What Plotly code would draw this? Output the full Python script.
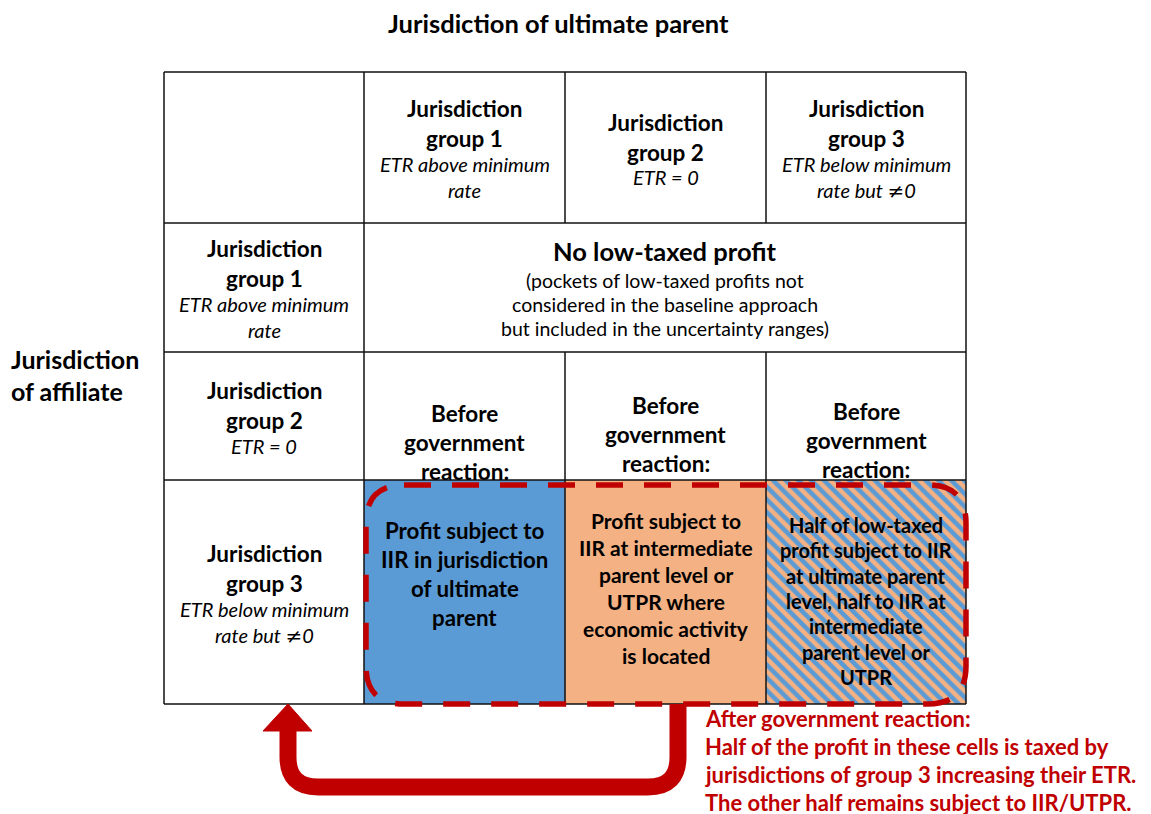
import plotly.graph_objects as go

# ---------------- data (texts) ----------------
title_top = "Jurisdiction of ultimate parent"
title_left = ["Jurisdiction", "of affiliate"]

NE = "<span style='font-family:DejaVu Sans;font-style:normal'>≠</span>"
col_heads = [
    (["Jurisdiction", "group 1"], ["ETR above minimum", "rate"]),
    (["Jurisdiction", "group 2"], ["ETR = 0"]),
    (["Jurisdiction", "group 3"], ["ETR below minimum", "rate but " + NE + "0"]),
]
row_heads = col_heads

no_low_title = "No low-taxed profit"
no_low_sub = ["(pockets of low-taxed profits not",
              "considered in the baseline approach",
              "but included in the uncertainty ranges)"]

before = ["Before", "government", "reaction:"]
cell_texts = [
    ["Profit subject to", "IIR in jurisdiction", "of ultimate", "parent"],
    ["Profit subject to", "IIR at intermediate", "parent level or", "UTPR where",
     "economic activity", "is located"],
    ["Half of low-taxed", "profit subject to IIR", "at ultimate parent",
     "level, half to IIR at", "intermediate", "parent level or", "UTPR"],
]
after_texts = ["After government reaction:",
               "Half of the profit in these cells is taxed by",
               "jurisdictions of group 3 increasing their ETR.",
               "The other half remains subject to IIR/UTPR."]

# ---------------- layout geometry ----------------
W, H = 1151, 814
OFF = 8  # page body margin
xe = [164, 364, 565, 766, 966]
ye = [72, 223, 352, 480, 704]
BLUE = "#5B9BD5"
ORANGE = "#F4B183"
RED = "#C00000"
FONT = "Lato"

fig = go.Figure()

# hatched cell as a bar with pattern
fig.add_trace(go.Bar(
    x=[(xe[3] + xe[4]) / 2], y=[ye[4] - ye[3]], base=[ye[3]],
    width=[xe[4] - xe[3]],
    marker=dict(color=ORANGE, line=dict(width=0),
                pattern=dict(shape="\\", fgcolor=BLUE, bgcolor=ORANGE,
                             size=9, solidity=0.5, fgopacity=1)),
    hoverinfo="skip", showlegend=False))

shapes = []
shapes.append(dict(type="rect", x0=xe[1], x1=xe[2], y0=ye[3], y1=ye[4],
                   fillcolor=BLUE, line=dict(width=0), layer="below"))
shapes.append(dict(type="rect", x0=xe[2], x1=xe[3], y0=ye[3], y1=ye[4],
                   fillcolor=ORANGE, line=dict(width=0), layer="below"))

lc = dict(color="#111111", width=1.5)
def seg(x0, y0, x1, y1):
    shapes.append(dict(type="line", x0=x0, y0=y0, x1=x1, y1=y1, line=lc, layer="above"))

seg(xe[0], ye[0], xe[0], ye[4])
seg(xe[4], ye[0], xe[4], ye[4])
for y in ye:
    seg(xe[0], y, xe[4], y)
seg(xe[1], ye[0], xe[1], ye[4])
for x in xe[2:4]:
    seg(x, ye[0], x, ye[1])
    seg(x, ye[2], x, ye[4])

# dashed rounded box
bx0, bx1, by0, by1, r = 366, 966, 485, 704, 38
path = (f"M {bx0+r} {by0} L {bx1-r} {by0} Q {bx1} {by0} {bx1} {by0+r} "
        f"L {bx1} {by1-r} Q {bx1} {by1} {bx1-r} {by1} L {bx0+r} {by1} "
        f"Q {bx0} {by1} {bx0} {by1-r} L {bx0} {by0+r} Q {bx0} {by0} {bx0+r} {by0} Z")
shapes.append(dict(type="path", path=path,
                   line=dict(color=RED, width=5.5, dash="27px,21px"), layer="above"))

# arrow
ar = 30
apath = (f"M 678 704 L 678 {787-ar} Q 678 787 {678-ar} 787 "
         f"L {288+ar} 787 Q 288 787 288 {787-ar} L 288 728")
shapes.append(dict(type="path", path=apath, line=dict(color=RED, width=17), layer="above"))
shapes.append(dict(type="path", path="M 263 731 L 312 731 L 288 704 Z",
                   fillcolor=RED, line=dict(color=RED, width=1), layer="above"))

annotations = []
def txt(x, y, s, size, bold=True, italic=False, color="black", anchor="center"):
    t = s
    if italic:
        t = f"<i>{t}</i>"
    if bold:
        t = f"<b>{t}</b>"
    annotations.append(dict(x=x, y=y, xref="x", yref="y", text=t, showarrow=False,
                            xanchor=anchor, yanchor="middle",
                            font=dict(family=FONT, size=size, color=color)))

def block(x, y0, lines, size, step, **kw):
    for i, s in enumerate(lines):
        txt(x, y0 + i * step, s, size, **kw)

# titles
txt(558, 23, title_top, 25.5)
block(9, 359, title_left, 25, 32, anchor="left")

cx = [(xe[i] + xe[i + 1]) / 2 for i in range(4)]
hy = [(108, 164), (122, 177), (108, 164)]
for i, (b, it) in enumerate(col_heads):
    block(cx[i + 1], hy[i][0], b, 22.5, 30)
    block(cx[i + 1], hy[i][1], it, 20, 26, bold=False, italic=True)

ry = [(248, 304), (390, 446), (553, 609)]
for i, (b, it) in enumerate(row_heads):
    block(cx[0], ry[i][0], b, 22.5, 30)
    block(cx[0], ry[i][1], it, 20, 26, bold=False, italic=True)

txt(665, 251, no_low_title, 25.5)
block(665, 280, no_low_sub, 19.5, 24, bold=False)

block(cx[1], 413, before, 22.5, 29)
block(cx[1], 530, cell_texts[0], 22.3, 29)
block(cx[2], 405, before, 22.5, 29)
block(cx[2], 520, cell_texts[1], 21, 27)
block(cx[3], 411, before, 22.5, 29)
block(cx[3], 525, cell_texts[2], 20, 25.3)

block(703, 718, after_texts, 22, 28, color=RED, anchor="left")

fig.update_layout(
    width=W, height=H, margin=dict(l=0, r=0, t=0, b=0),
    paper_bgcolor="white", plot_bgcolor="white",
    xaxis=dict(range=[OFF, W + OFF], visible=False, fixedrange=True),
    yaxis=dict(range=[H + OFF, OFF], visible=False, fixedrange=True),
    shapes=shapes, annotations=annotations, bargap=0, showlegend=False,
)
fig.write_html("out.html")
